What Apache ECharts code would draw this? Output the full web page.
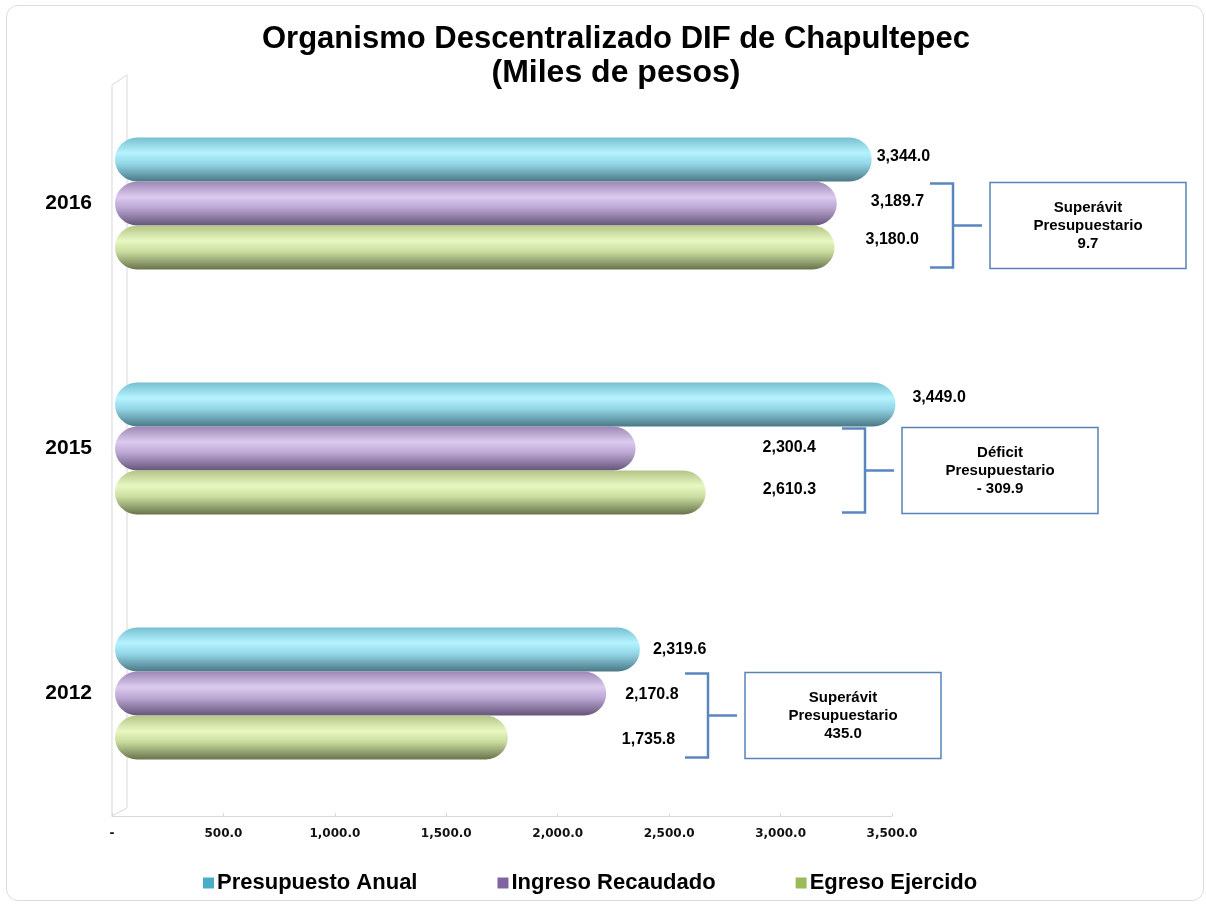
<!DOCTYPE html>
<html>
<head>
<meta charset="utf-8">
<title>Organismo Descentralizado DIF de Chapultepec</title>
<script src="https://cdn.jsdelivr.net/npm/echarts@6/dist/echarts.min.js"></script>
<style>
  html, body { margin: 0; padding: 0; background: #fff; }
  #frame {
    position: absolute; left: 6px; top: 5px; width: 1196px; height: 894px;
    border: 1px solid #dcdcdc; border-radius: 12px;
  }
  #chart { position: absolute; left: 0; top: 0; width: 1206px; height: 904px; }
</style>
</head>
<body>
<div id="frame"></div>
<div id="chart"></div>
<script>
// values (miles de pesos), categories bottom -> top
const categories = ['2012', '2015', '2016']
const presupuesto = [2319.6, 3449.0, 3344.0]
const ingreso = [2170.8, 2300.4, 3189.7]
const egreso = [1735.8, 2610.3, 3180.0]
const tickLabels = ['-', '500.0', '1,000.0', '1,500.0', '2,000.0', '2,500.0', '3,000.0', '3,500.0']
const seriesNames = ['Presupuesto Anual', 'Ingreso Recaudado', 'Egreso Ejercido']

// label nudges (px) per category, the original places them by hand
const labelShift = [
  [[13, 0], [17, -7], [5, -3]],
  [[19, 1], [127, -1], [34, -2]],
  [[114, 2], [57, -3], [31, -8]]
]
// x pixel of each bracket
const bracketX = [708, 865, 953]

const fmt = v => v.toLocaleString('en-US', { minimumFractionDigits: 1, maximumFractionDigits: 1 })

function tube (top, light, mid, dark) {
  return new echarts.graphic.LinearGradient(0, 0, 0, 1, [
    { offset: 0, color: top },
    { offset: 0.35, color: light },
    { offset: 0.6, color: mid },
    { offset: 1, color: dark }
  ])
}

const fills = [
  tube('#76bfd0', '#b6f3ff', '#93d6e6', '#4a7886'),
  tube('#9c87b3', '#dccbf0', '#bba7d2', '#65557a'),
  tube('#b4c486', '#e8f8c2', '#cadc9e', '#68734c')
]
const legendColors = ['#4bacc6', '#8064a2', '#9bbb59']
const values = [presupuesto, ingreso, egreso]

const chart = echarts.init(document.getElementById('chart'))

chart.setOption({
  backgroundColor: 'transparent',
  animation: false,
  textStyle: { fontFamily: '"Liberation Sans", Arial, sans-serif' },
  title: {
    text: 'Organismo Descentralizado DIF de Chapultepec',
    subtext: '(Miles de pesos)',
    left: 611,
    top: 17,
    textAlign: 'center',
    itemGap: 0,
    textStyle: { fontSize: 31, fontWeight: 'bold', color: '#000', lineHeight: 34 },
    subtextStyle: { fontSize: 32, fontWeight: 'bold', color: '#000', lineHeight: 34 }
  },
  legend: {
    left: 198,
    top: 867,
    itemWidth: 11,
    itemHeight: 11,
    itemGap: 80,
    textStyle: { fontSize: 22, fontWeight: 'bold', color: '#000', padding: [0, 0, 0, -2] },
    data: seriesNames.map((n, i) => ({ name: n, icon: 'rect', itemStyle: { color: legendColors[i] } }))
  },
  grid: [
    { left: 112, right: 314, top: 81, bottom: 88 },
    { left: 115, right: 299, top: 81, bottom: 88 }
  ],
  xAxis: [
    {
      type: 'value',
      gridIndex: 0,
      min: 0,
      max: 3500,
      interval: 500,
      splitLine: { show: false },
      axisLine: { show: true, lineStyle: { color: '#d9d9d9', width: 1 } },
      axisTick: { show: true, inside: true, length: 3, lineStyle: { color: '#d9d9d9' } },
      axisLabel: {
        margin: 12,
        fontFamily: '"DejaVu Sans", Verdana, sans-serif',
        fontSize: 12,
        fontWeight: 'bold',
        color: '#111',
        formatter: v => tickLabels[Math.round(v / 500)]
      }
    },
    { type: 'value', gridIndex: 1, min: 0, max: 3500, show: false }
  ],
  yAxis: [
    {
      type: 'category',
      gridIndex: 0,
      data: categories,
      axisLine: { show: false },
      axisTick: { show: false },
      axisLabel: { margin: 20, fontSize: 21, fontWeight: 'bold', color: '#000' }
    },
    { type: 'category', gridIndex: 1, data: categories, show: false }
  ],
  series: seriesNames.map((name, s) => ({
    name,
    type: 'bar',
    xAxisIndex: 1,
    yAxisIndex: 1,
    barWidth: 44,
    barGap: '0%',
    itemStyle: { color: fills[s], borderRadius: 22 },
    label: {
      show: true,
      position: 'right',
      distance: 0,
      fontSize: 16,
      fontWeight: 'bold',
      color: '#000',
      formatter: p => fmt(p.value)
    },
    data: values[s].map((v, c) => ({ value: v, label: { offset: labelShift[s][c] } }))
  }))
})

// 3D-style back wall and bracket notes
function drawExtras () {
  const g = []
  g.push({
    type: 'polyline',
    shape: { points: [[112, 816], [112, 85], [127, 75], [127, 808], [112, 816]] },
    style: { stroke: '#d9d9d9', lineWidth: 1, fill: null }
  })
  categories.forEach((c, i) => {
    const cy = chart.convertToPixel({ yAxisIndex: 1 }, c) + 22
    const bx = bracketX[i]
    const diff = ingreso[i] - egreso[i]
    const text = diff >= 0
      ? 'Superávit\nPresupuestario\n' + fmt(diff)
      : 'Déficit\nPresupuestario\n- ' + fmt(-diff)
    g.push({
      type: 'polyline',
      shape: { points: [[bx - 23, cy - 42], [bx, cy - 42], [bx, cy + 42], [bx - 23, cy + 42]] },
      style: { stroke: '#5a86bf', lineWidth: 2.5, fill: null }
    })
    g.push({
      type: 'line',
      shape: { x1: bx, y1: cy, x2: bx + 29, y2: cy },
      style: { stroke: '#5a86bf', lineWidth: 2.5 }
    })
    g.push({
      type: 'rect',
      shape: { x: bx + 37, y: cy - 43, width: 196, height: 86 },
      style: { stroke: '#5a82b8', lineWidth: 1.5, fill: '#fff' }
    })
    g.push({
      type: 'text',
      x: bx + 37 + 98,
      y: cy,
      style: {
        text,
        fill: '#000',
        font: 'bold 15px "Liberation Sans", Arial, sans-serif',
        lineHeight: 18,
        align: 'center',
        verticalAlign: 'middle'
      }
    })
  })
  chart.setOption({ graphic: g })
}
drawExtras()
</script>
</body>
</html>
